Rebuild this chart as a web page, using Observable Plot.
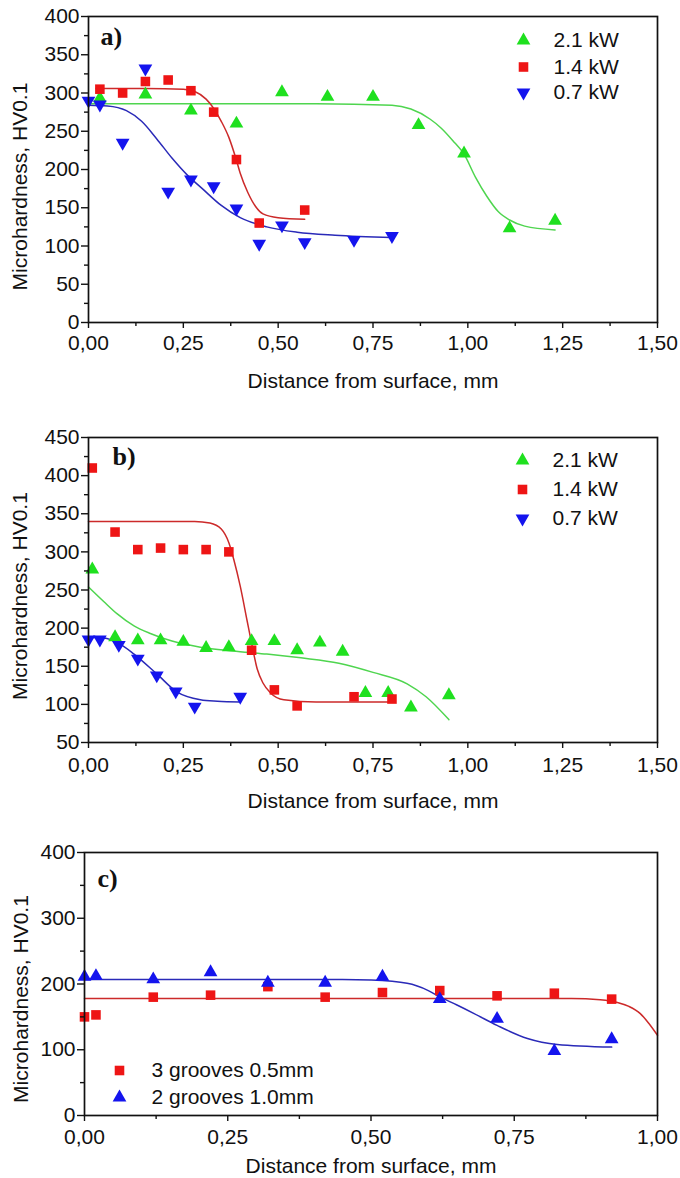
<!DOCTYPE html>
<html><head><meta charset="utf-8">
<script src="https://cdn.jsdelivr.net/npm/d3@7"></script>
<script src="https://cdn.jsdelivr.net/npm/@observablehq/plot@0.6"></script>
<style>
body{margin:0;background:#fff;}
#chart{width:680px;}
#chart svg{display:block;}
</style></head><body><div id="chart"></div>
<script>
// ---------- DATA ----------
// Panel a
const aX21 = [0.03,0.15,0.27,0.39,0.51,0.63,0.75,0.87,0.99,1.11,1.23];
const aY21 = [293,298,277,260,301,295,295,258,221,123,133];
const aX14 = [0.03,0.09,0.15,0.21,0.27,0.33,0.39,0.45,0.57];
const aY14 = [305,300,315,317,303,275,213,130,147];
const aX07 = [0.00,0.03,0.09,0.15,0.21,0.27,0.33,0.39,0.45,0.51,0.57,0.70,0.80];
const aY07 = [290,285,235,332,171,187,178,149,103,127,105,108,113];
const aFitX21 = [0,0.2,0.4,0.6,0.8,0.85,0.90,0.93,0.96,0.99,1.02,1.05,1.08,1.11,1.15,1.23];
const aFitY21 = [286,286,286,286,284,279,266,254,238,220,190,165,145,134,126,121];
const aFitX14 = [0.02,0.15,0.25,0.28,0.31,0.33,0.35,0.37,0.39,0.40,0.42,0.44,0.46,0.50,0.57];
const aFitY14 = [306,306,305,302,292,280,263,242,212,195,170,152,142,137,135];
const aFitX07 = [0,0.05,0.10,0.14,0.18,0.22,0.26,0.30,0.35,0.40,0.47,0.55,0.65,0.80];
const aFitY07 = [284,283,277,263,240,215,193,175,153,137,125,118,114,111];
// Panel b
const bX21 = [0.01,0.07,0.13,0.19,0.25,0.31,0.37,0.43,0.49,0.55,0.61,0.67,0.73,0.79,0.85,0.95];
const bY21 = [277,188,184,184,182,174,175,183,183,171,181,169,115,115,96,112];
const bX14 = [0.01,0.07,0.13,0.19,0.25,0.31,0.37,0.43,0.49,0.55,0.70,0.80];
const bY14 = [410,326,303,305,303,303,300,171,119,98,110,107];
const bX07 = [0.00,0.03,0.08,0.13,0.18,0.23,0.28,0.40];
const bY07 = [185,185,178,160,138,117,97,110];
const bFitX21 = [0,0.04,0.075,0.12,0.163,0.22,0.295,0.38,0.47,0.56,0.66,0.75,0.84,0.89,0.95];
const bFitY21 = [254,235,219,203,193,183,175,170,166,161,154,142,127,110,80];
const bFitX14 = [0,0.28,0.32,0.35,0.37,0.383,0.40,0.418,0.43,0.445,0.46,0.48,0.515,0.60,0.80];
const bFitY14 = [340,340,338,330,312,290,255,210,180,146,128,115,106,103,103];
const bFitX07 = [0,0.04,0.08,0.12,0.18,0.234,0.295,0.34,0.40];
const bFitY07 = [188,187,180,166,140,116,106,104,103];
// Panel c
const cX3g = [0.00,0.02,0.12,0.22,0.32,0.42,0.52,0.62,0.72,0.82,0.92];
const cY3g = [150,153,180,183,196,180,187,190,182,186,177];
const cX2g = [0.00,0.02,0.12,0.22,0.32,0.42,0.52,0.62,0.72,0.82,0.92];
const cY2g = [211,212,207,218,202,202,211,177,147,98,116];
const cFitX3g = [0,0.5,0.85,0.90,0.93,0.95,0.97,0.985,1.0];
const cFitY3g = [178,178,178,176,172,166,155,140,122];
const cFitX2g = [0,0.45,0.50,0.563,0.60,0.621,0.65,0.68,0.72,0.773,0.825,0.92];
const cFitY2g = [207,207,206,201,190,180,168,155,137,117,108,104];
// Ticks
const xTicksAB = [0,0.25,0.5,0.75,1.0,1.25,1.5];
const xLabelsAB = ["0,00","0,25","0,50","0,75","1,00","1,25","1,50"];
const xMinorAB = [0.125,0.375,0.625,0.875,1.125,1.375];
const xTicksC = [0,0.25,0.5,0.75,1.0];
const xLabelsC = ["0,00","0,25","0,50","0,75","1,00"];
const xMinorC = [0.125,0.375,0.625,0.875];
const yTicksA = [0,50,100,150,200,250,300,350,400];
const yLabelsA = ["0","50","100","150","200","250","300","350","400"];
const yMinorA = [25,75,125,175,225,275,325,375];
const yTicksB = [50,100,150,200,250,300,350,400,450];
const yLabelsB = ["50","100","150","200","250","300","350","400","450"];
const yMinorB = [75,125,175,225,275,325,375,425];
const yTicksC = [0,100,200,300,400];
const yLabelsC = ["0","100","200","300","400"];
const yMinorC = [50,150,250,350];
const kwLabels = ["2.1 kW","1.4 kW","0.7 kW"];
const grooveLabels = ["3 grooves 0.5mm","2 grooves 1.0mm"];
const xTitle = "Distance from surface, mm";
const yTitle = "Microhardness, HV0.1";

// ---------- STYLE ----------
const FONT = "'Liberation Sans', Arial, sans-serif";
const FS = 21;
const GREEN = "#1fe01f", RED = "#ee1515", BLUE = "#1414ee";
const GREEN_L = "#4fd54f", RED_L = "#cc2a2a", BLUE_L = "#2a2ab8";
const triDown = {draw(ctx, size){
  const y = -Math.sqrt(size / (Math.sqrt(3) * 3)), s3 = Math.sqrt(3);
  ctx.moveTo(0, -2 * y); ctx.lineTo(-s3 * y, y); ctx.lineTo(s3 * y, y); ctx.closePath();
}};
const SYM = {up: {symbol: "triangle", r: 5.1}, sq: {symbol: "square", r: 5.4}, down: {symbol: triDown, r: 5.1}};
const zip = (xs, ys) => xs.map((x, i) => ({x, y: ys[i]}));

function panel(o) {
  const marks = [];
  for (const f of o.fits) marks.push(Plot.line(zip(f.x, f.y), {x: "x", y: "y", stroke: f.stroke, strokeWidth: 1.5, curve: "monotone-x"}));
  for (const s of o.series) marks.push(Plot.dot(zip(s.x, s.y), {x: "x", y: "y", symbol: SYM[s.sym].symbol, r: SYM[s.sym].r, fill: s.fill, stroke: "none"}));
  marks.push(Plot.frame({stroke: "#111", strokeWidth: 1.7}));
  marks.push(Plot.axisY({ticks: o.yTicks, tickSize: 7, tickPadding: 2, tickFormat: d => o.yLabels[o.yTicks.indexOf(d)], fontSize: FS, label: null, stroke: "#111", strokeWidth: 1.4, fill: "#111"}));
  marks.push(Plot.axisY({ticks: o.yMinor, tickSize: 4, fill: "none", label: null, stroke: "#111", strokeWidth: 1.4}));
  marks.push(Plot.axisX({anchor: "bottom", ticks: o.xTicks, tickSize: 6, tickPadding: o.xPad, tickFormat: d => o.xLabels[o.xTicks.indexOf(d)], fontSize: FS, label: null, stroke: "#111", strokeWidth: 1.4, fill: "#111"}));
  marks.push(Plot.axisX({anchor: "bottom", ticks: o.xMinor, tickSize: 4, fill: "none", label: null, stroke: "#111", strokeWidth: 1.4}));
  marks.push(Plot.text([xTitle], {text: d => d, frameAnchor: "bottom", dy: o.xTitleDy, lineAnchor: "bottom", textAnchor: "middle", fontSize: FS, fill: "#111"}));
  marks.push(Plot.text([yTitle], {text: d => d, frameAnchor: "left", dx: o.yTitleDx, dy: o.yTitleDy, rotate: -90, lineAnchor: "bottom", textAnchor: "middle", fontSize: FS, fill: "#111"}));
  marks.push(Plot.text([o.tag], {text: d => d, frameAnchor: "top-left", dx: o.tagDx, dy: o.tagDy, lineAnchor: "bottom", textAnchor: "start", fontFamily: "'Liberation Serif', 'Times New Roman', serif", fontWeight: "bold", fontSize: 26, fill: "#111"}));
  o.legend.items.forEach((it, i) => {
    marks.push(Plot.dot([it], {frameAnchor: "top-left", dx: o.legend.symDx, dy: o.legend.rows[i], symbol: SYM[it.sym].symbol, r: SYM[it.sym].r, fill: it.fill, stroke: "none"}));
    marks.push(Plot.text([it.label], {text: d => d, frameAnchor: "top-left", dx: o.legend.textDx, dy: o.legend.rows[i], textAnchor: "start", lineAnchor: "middle", fontSize: FS, fill: "#111"}));
  });
  return Plot.plot({
    width: 680, height: o.height,
    marginTop: o.mt, marginBottom: o.mb, marginLeft: o.ml, marginRight: o.mr,
    x: {domain: o.xDomain}, y: {domain: o.yDomain},
    style: {fontFamily: FONT, fontSize: FS + "px", background: "white", color: "#111", overflow: "visible"},
    marks
  });
}

const chart = document.getElementById("chart");
chart.append(panel({
  height: 410, mt: 16, mb: 88, ml: 88, mr: 23,
  xDomain: [0, 1.5], yDomain: [0, 400],
  xTicks: xTicksAB, xLabels: xLabelsAB, xMinor: xMinorAB, xPad: 7,
  yTicks: yTicksA, yLabels: yLabelsA, yMinor: yMinorA,
  xTitleDy: 65, yTitleDx: -62, yTitleDy: 17,
  tag: "a)", tagDx: 12, tagDy: 28,
  fits: [{x: aFitX21, y: aFitY21, stroke: GREEN_L}, {x: aFitX14, y: aFitY14, stroke: RED_L}, {x: aFitX07, y: aFitY07, stroke: BLUE_L}],
  series: [{x: aX21, y: aY21, sym: "up", fill: GREEN}, {x: aX14, y: aY14, sym: "sq", fill: RED}, {x: aX07, y: aY07, sym: "down", fill: BLUE}],
  legend: {symDx: 435, textDx: 465, rows: [24, 50.5, 76], items: [
    {label: kwLabels[0], sym: "up", fill: GREEN}, {label: kwLabels[1], sym: "sq", fill: RED}, {label: kwLabels[2], sym: "down", fill: BLUE}]}
}));
chart.append(panel({
  height: 420, mt: 27, mb: 88, ml: 88, mr: 23,
  xDomain: [0, 1.5], yDomain: [50, 450],
  xTicks: xTicksAB, xLabels: xLabelsAB, xMinor: xMinorAB, xPad: 9,
  yTicks: yTicksB, yLabels: yLabelsB, yMinor: yMinorB,
  xTitleDy: 65, yTitleDx: -62, yTitleDy: 6,
  tag: "b)", tagDx: 24, tagDy: 27,
  fits: [{x: bFitX21, y: bFitY21, stroke: GREEN_L}, {x: bFitX14, y: bFitY14, stroke: RED_L}, {x: bFitX07, y: bFitY07, stroke: BLUE_L}],
  series: [{x: bX21, y: bY21, sym: "up", fill: GREEN}, {x: bX14, y: bY14, sym: "sq", fill: RED}, {x: bX07, y: bY07, sym: "down", fill: BLUE}],
  legend: {symDx: 434, textDx: 464, rows: [23, 52, 81], items: [
    {label: kwLabels[0], sym: "up", fill: GREEN}, {label: kwLabels[1], sym: "sq", fill: RED}, {label: kwLabels[2], sym: "down", fill: BLUE}]}
}));
chart.append(panel({
  height: 348, mt: 22, mb: 63, ml: 84, mr: 23,
  xDomain: [0, 1.0], yDomain: [0, 400],
  xTicks: xTicksC, xLabels: xLabelsC, xMinor: xMinorC, xPad: 8,
  yTicks: yTicksC, yLabels: yLabelsC, yMinor: yMinorC,
  xTitleDy: 57, yTitleDx: -57, yTitleDy: 15,
  tag: "c)", tagDx: 13, tagDy: 34,
  fits: [{x: cFitX3g, y: cFitY3g, stroke: RED_L}, {x: cFitX2g, y: cFitY2g, stroke: BLUE_L}],
  series: [{x: cX3g, y: cY3g, sym: "sq", fill: RED}, {x: cX2g, y: cY2g, sym: "up", fill: BLUE}],
  legend: {symDx: 35, textDx: 67, rows: [218, 245], items: [
    {label: grooveLabels[0], sym: "sq", fill: RED}, {label: grooveLabels[1], sym: "up", fill: BLUE}]}
}));
</script></body></html>
